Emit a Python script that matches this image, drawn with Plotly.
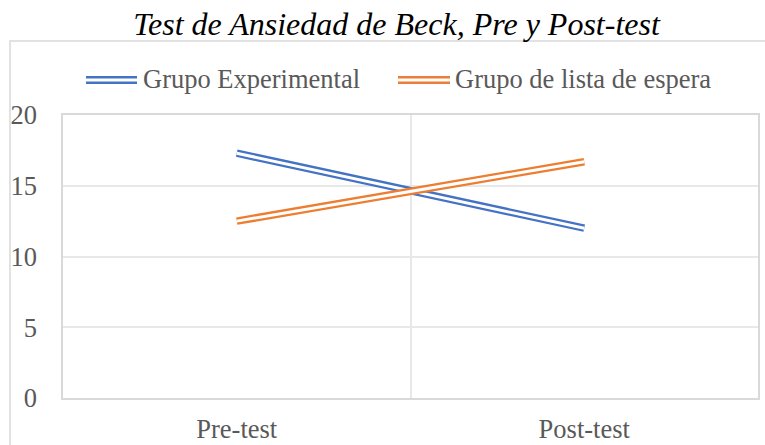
import plotly.graph_objects as go

categories = ["Pre-test", "Post-test"]
grupo_experimental = [17.3, 12.0]
grupo_espera = [12.5, 16.7]
series_names = ["Grupo Experimental", "Grupo de lista de espera"]
y_ticks = [0, 5, 10, 15, 20]

BLUE = "#4472C4"
ORANGE = "#ED7D31"
FONT = "Liberation Serif"
GRAY = "#595959"

W, H = 765, 445
L, R, T, B = 63, 7, 115, 47
PW, PH = W - L - R, H - T - B

def px(x):
    return (x - L) / PW

def py(y):
    return (H - B - y) / PH

fig = go.Figure()
for vals, color in [(grupo_experimental, BLUE), (grupo_espera, ORANGE)]:
    fig.add_trace(go.Scatter(x=categories, y=vals, mode="lines",
                             line=dict(color=color, width=7.5), showlegend=False,
                             hoverinfo="skip"))
    fig.add_trace(go.Scatter(x=categories, y=vals, mode="lines",
                             line=dict(color="white", width=3), showlegend=False,
                             hoverinfo="skip"))

shapes = []
# outer chart border
shapes.append(dict(type="rect", xref="paper", yref="paper",
                   x0=px(10), x1=px(800), y0=py(500), y1=py(41),
                   line=dict(color="#d9d9d9", width=1.5), layer="below"))
annotations = []
legend_items = [(series_names[0], BLUE, 86, 137, 141), (series_names[1], ORANGE, 398, 450, 453)]
for name, color, sx0, sx1, tx in legend_items:
    shapes.append(dict(type="line", xref="paper", yref="paper", x0=px(sx0), x1=px(sx1),
                       y0=py(80), y1=py(80), line=dict(color=color, width=8)))
    shapes.append(dict(type="line", xref="paper", yref="paper", x0=px(sx0), x1=px(sx1),
                       y0=py(80), y1=py(80), line=dict(color="white", width=2.8)))
    annotations.append(dict(text=name, xref="paper", yref="paper", x=px(tx), y=py(79),
                            xanchor="left", yanchor="middle", showarrow=False,
                            font=dict(family=FONT, size=26.5, color=GRAY)))

fig.update_layout(
    width=W, height=H,
    margin=dict(l=L, r=R, t=T, b=B, autoexpand=False),
    paper_bgcolor="white", plot_bgcolor="white",
    title=dict(text="<i>Test de Ansiedad de Beck, Pre y Post-test</i>",
               x=396.5 / W, xanchor="center", xref="container",
               y=1 - 24 / H, yanchor="middle", yref="container",
               font=dict(family=FONT, size=32, color="black")),
    showlegend=False,
    shapes=shapes,
    annotations=annotations,
    xaxis=dict(type="category", range=[-0.5, 1.5], tickson="boundaries", automargin=False,
               showgrid=True, gridcolor="#e8e8e8", gridwidth=1.5,
               showline=True, mirror=True, linecolor="#d9d9d9", linewidth=1.5,
               ticks="", ticklabelstandoff=6,
               tickfont=dict(family=FONT, size=26.5, color=GRAY), zeroline=False),
    yaxis=dict(range=[0, 20], tickvals=y_ticks, showgrid=True, gridcolor="#e8e8e8",
               gridwidth=1.5, showline=True, mirror=True, linecolor="#d9d9d9", automargin=False,
               linewidth=1.5, ticks="", ticklabelstandoff=19, zeroline=False,
               tickfont=dict(family=FONT, size=26.5, color=GRAY)),
)

fig.write_html("out.html", config={"displayModeBar": False},
               post_script="document.body.style.margin='0';document.body.style.overflow='hidden';")
